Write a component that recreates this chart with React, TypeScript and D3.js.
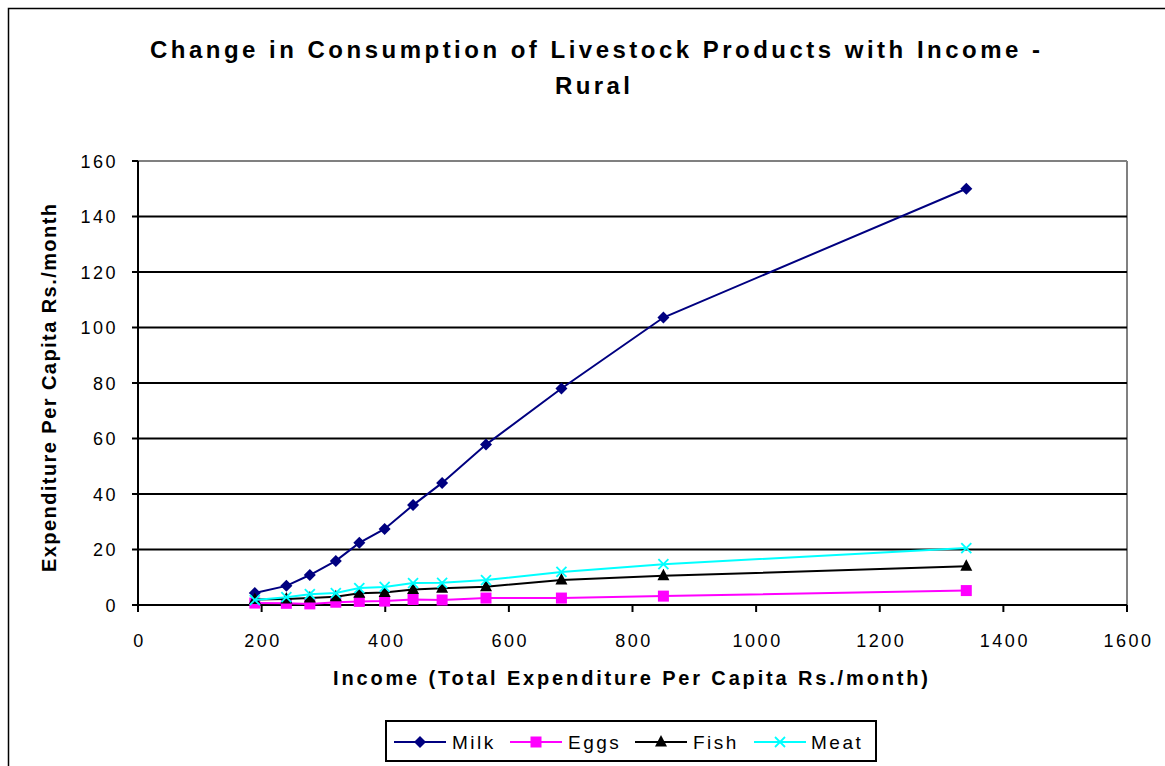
import React from "react";
import * as d3 from "d3";

const incomes = [189, 240, 278, 320, 358, 399, 445, 492, 563, 685, 850, 1340];
const milk = [4.3, 6.9, 10.8, 15.9, 22.4, 27.4, 36, 44, 57.8, 78, 103.6, 150];
const eggs = [0.7, 0.6, 0.4, 1.0, 1.3, 1.4, 2.0, 1.8, 2.5, 2.5, 3.2, 5.2];
const fish = [2.0, 2.2, 2.5, 3.0, 4.2, 4.5, 5.6, 6.0, 6.6, 9.0, 10.5, 14];
const meat = [1.8, 2.8, 3.9, 4.3, 6.1, 6.5, 7.9, 8.0, 9.0, 11.9, 14.7, 20.5];

const xTicks = [0, 200, 400, 600, 800, 1000, 1200, 1400, 1600];
const yTicks = [0, 20, 40, 60, 80, 100, 120, 140, 160];

const seriesNames = ["Milk", "Eggs", "Fish", "Meat"];
const seriesColors = ["#000080", "#FF00FF", "#000000", "#00FFFF"];
const seriesShapes = ["diamond", "square", "triangle", "x"];
const seriesValues = [milk, eggs, fish, meat];

const FONT = "'Liberation Sans', Arial, sans-serif";

function Marker({ shape, x, y, color }: { shape: string; x: number; y: number; color: string }) {
  if (shape === "diamond") {
    const s = 6;
    return <polygon points={`${x},${y - s} ${x + s},${y} ${x},${y + s} ${x - s},${y}`} fill={color} />;
  }
  if (shape === "square") {
    return <rect x={x - 5.5} y={y - 5.5} width={11} height={11} fill={color} />;
  }
  if (shape === "triangle") {
    return <polygon points={`${x},${y - 7} ${x + 6},${y + 4.5} ${x - 6},${y + 4.5}`} fill={color} />;
  }
  const s = 5;
  return (
    <g stroke={color} strokeWidth={1.8}>
      <line x1={x - s} y1={y - s} x2={x + s} y2={y + s} />
      <line x1={x - s} y1={y + s} x2={x + s} y2={y - s} />
    </g>
  );
}

export default function App() {
  const left = 138, right = 1127, top = 161, bottom = 605;
  const x = d3.scaleLinear().domain([0, 1600]).range([left, right]);
  const y = d3.scaleLinear().domain([0, 160]).range([bottom, top]);

  const line = d3
    .line<[number, number]>()
    .x((d) => x(d[0]))
    .y((d) => y(d[1]));

  const legendItems = [
    { lx: 394, tx: 452 },
    { lx: 510, tx: 568 },
    { lx: 635, tx: 693 },
    { lx: 754, tx: 811 },
  ];

  return (
    <svg width={1165} height={766} style={{ position: "absolute", left: 0, top: 0, background: "#fff" }}>
      <rect x={0} y={0} width={1165} height={766} fill="#fff" />
      <rect x={8.5} y={8.5} width={1200} height={800} fill="none" stroke="#000" strokeWidth={1.5} />

      <text
        x={150}
        y={58}
        fontFamily={FONT}
        fontWeight="bold"
        fontSize={24}
        textLength={890}
        lengthAdjust="spacing"
        fill="#000"
      >
        Change in Consumption of Livestock Products with Income -
      </text>
      <text
        x={555}
        y={94}
        fontFamily={FONT}
        fontWeight="bold"
        fontSize={24}
        textLength={75}
        lengthAdjust="spacing"
        fill="#000"
      >
        Rural
      </text>

      {/* plot frame grey */}
      <line x1={left} y1={top} x2={right} y2={top} stroke="#808080" strokeWidth={2} />
      <line x1={right} y1={top} x2={right} y2={bottom} stroke="#808080" strokeWidth={2} />

      {/* gridlines */}
      {yTicks
        .filter((t) => t > 0 && t < 160)
        .map((t) => (
          <line key={t} x1={left} x2={right} y1={y(t)} y2={y(t)} stroke="#000" strokeWidth={2} />
        ))}

      {/* axes */}
      <line x1={left} y1={top} x2={left} y2={bottom} stroke="#000" strokeWidth={2} />
      <line x1={left} y1={bottom} x2={right} y2={bottom} stroke="#000" strokeWidth={2} />
      {yTicks.map((t) => (
        <g key={t}>
          <line x1={left - 6} x2={left} y1={y(t)} y2={y(t)} stroke="#000" strokeWidth={2} />
          <text
            x={118}
            y={y(t) + 6.5}
            textAnchor="end"
            fontFamily={FONT}
            fontSize={18}
            letterSpacing={2.5}
            fill="#000"
          >
            {t}
          </text>
        </g>
      ))}
      {xTicks.map((t) => (
        <g key={t}>
          <line x1={x(t)} x2={x(t)} y1={bottom} y2={bottom + 7} stroke="#000" strokeWidth={2} />
          <text
            x={x(t) + 1.5}
            y={647}
            textAnchor="middle"
            fontFamily={FONT}
            fontSize={18}
            letterSpacing={2.5}
            fill="#000"
          >
            {t}
          </text>
        </g>
      ))}

      {/* axis titles */}
      <text
        x={333}
        y={685}
        fontFamily={FONT}
        fontWeight="bold"
        fontSize={20}
        textLength={595}
        lengthAdjust="spacing"
        fill="#000"
      >
        Income (Total Expenditure Per Capita Rs./month)
      </text>
      <text
        transform={`translate(56, 572) rotate(-90)`}
        x={0}
        y={0}
        fontFamily={FONT}
        fontWeight="bold"
        fontSize={20}
        textLength={368}
        lengthAdjust="spacing"
        fill="#000"
      >
        Expenditure Per Capita Rs./month
      </text>

      {/* series */}
      {seriesValues.map((vals, i) => {
        const pts: [number, number][] = incomes.map((inc, j) => [inc, vals[j]]);
        return (
          <g key={seriesNames[i]}>
            <path d={line(pts) || ""} fill="none" stroke={seriesColors[i]} strokeWidth={2} />
            {pts.map((p, j) => (
              <Marker key={j} shape={seriesShapes[i]} x={x(p[0])} y={y(p[1])} color={seriesColors[i]} />
            ))}
          </g>
        );
      })}

      {/* legend */}
      <rect x={386} y={721} width={490} height={40} fill="#fff" stroke="#000" strokeWidth={2} />
      {seriesNames.map((name, i) => (
        <g key={name}>
          <line
            x1={legendItems[i].lx}
            x2={legendItems[i].lx + 52}
            y1={742}
            y2={742}
            stroke={seriesColors[i]}
            strokeWidth={2}
          />
          <Marker shape={seriesShapes[i]} x={legendItems[i].lx + 26} y={742} color={seriesColors[i]} />
          <text
            x={legendItems[i].tx}
            y={749}
            fontFamily={FONT}
            fontSize={19}
            letterSpacing={2.5}
            fill="#000"
          >
            {name}
          </text>
        </g>
      ))}
    </svg>
  );
}
